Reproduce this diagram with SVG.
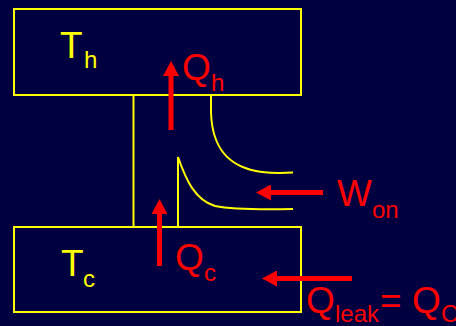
<svg xmlns="http://www.w3.org/2000/svg" width="456" height="326" viewBox="0 0 456 326">
<defs>
<style>
.box{fill:none;stroke:#FFFF00;stroke-width:2}
.ln{fill:none;stroke:#FFFF00;stroke-width:2}
.arr{stroke:#FF0000;stroke-width:5;fill:none}
.ty{fill:#FFFF00;font-family:"Liberation Sans",Arial,sans-serif}
.tr{fill:#FF0000;font-family:"Liberation Sans",Arial,sans-serif}
.big{font-size:37px}
.sub{font-size:24px}
</style>
<marker id="ah" viewBox="0 0 15 16" refX="0" refY="8" markerWidth="15" markerHeight="16" markerUnits="userSpaceOnUse" orient="auto">
<path d="M0,0 L15,8 L0,16 Z" fill="#FF0000"/>
</marker>
</defs>
<rect width="456" height="326" fill="#000040"/>
<g id="hot">
<rect class="box" x="14" y="9" width="287" height="86"/>
<text class="ty big" x="60" y="58">T</text>
<text class="ty sub" x="84" y="68">h</text>
</g>
<g id="cold">
<rect class="box" x="14" y="227" width="287" height="85"/>
<text class="ty big" x="61" y="276">T</text>
<text class="ty sub" x="83" y="287">c</text>
</g>
<g id="engine">
<line class="ln" x1="133.5" y1="95" x2="133.5" y2="227"/>
<path class="ln" d="M211,95 L211,112 C212,150 230,168 262,172 C275,173.5 285,173 293,172.5"/>
<path class="ln" d="M178,227 L178,157 C186,180 195,200 215,206 C235,210 270,209.5 293,209"/>
</g>
<g id="connectors">
<line class="arr" x1="171" y1="130" x2="171" y2="76" marker-end="url(#ah)"/>
<line class="arr" x1="159.5" y1="266" x2="159.5" y2="214" marker-end="url(#ah)"/>
<line class="arr" x1="323" y1="192.5" x2="271" y2="192.5" marker-end="url(#ah)"/>
<line class="arr" x1="352" y1="278.5" x2="277" y2="278.5" marker-end="url(#ah)"/>
</g>
<g id="labels">
<text class="tr big" x="182" y="80">Q</text>
<text class="tr sub" x="211" y="91">h</text>
<text class="tr big" x="175" y="270">Q</text>
<text class="tr sub" x="204" y="281">c</text>
<text class="tr big" x="337" y="206">W</text>
<text class="tr sub" x="372" y="218">on</text>
<text class="tr big" x="306" y="313">Q</text>
<text class="tr sub" x="335" y="322">leak</text>
<text class="tr big" x="380" y="313">=</text>
<text class="tr big" x="412" y="313">Q</text>
<text class="tr sub" x="441" y="322">C</text>
</g>
</svg>
